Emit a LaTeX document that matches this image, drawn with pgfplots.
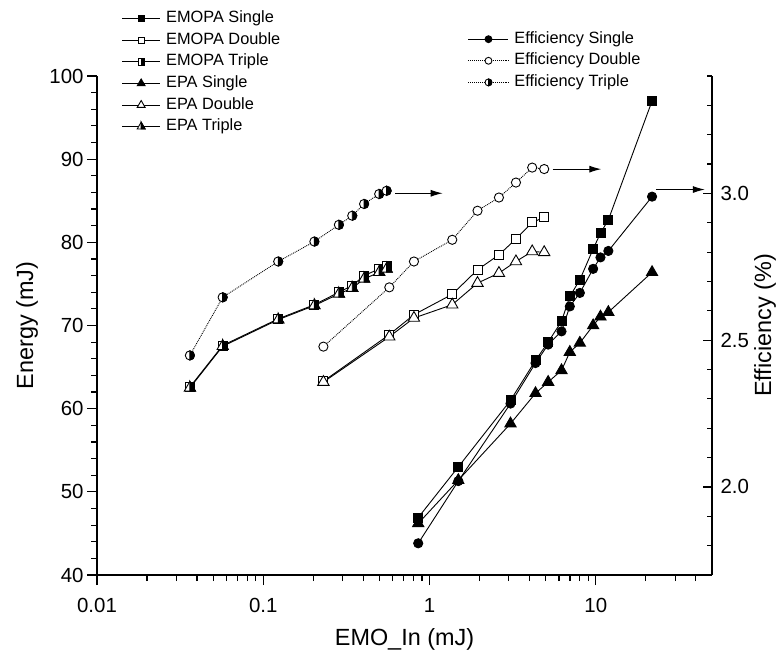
\documentclass[border=0pt]{standalone}
\usepackage{pgfplots}
\pgfplotsset{compat=1.18}
\usepackage{fontspec}
\setmainfont{Liberation Sans}
\usetikzlibrary{arrows.meta}

\pgfdeclareplotmark{hsquare}{%
 \pgfpathrectangle{\pgfqpoint{-\pgfplotmarksize}{-\pgfplotmarksize}}{\pgfqpoint{2\pgfplotmarksize}{2\pgfplotmarksize}}%
 \pgfsetfillcolor{white}\pgfusepathqfillstroke
 \pgfpathrectangle{\pgfqpoint{0pt}{-\pgfplotmarksize}}{\pgfqpoint{\pgfplotmarksize}{2\pgfplotmarksize}}%
 \pgfsetfillcolor{black}\pgfusepathqfillstroke}
\pgfdeclareplotmark{hcircle}{%
 \pgfpathcircle{\pgfpointorigin}{\pgfplotmarksize}%
 \pgfsetfillcolor{white}\pgfusepathqfillstroke
 \pgfpathmoveto{\pgfqpoint{0pt}{\pgfplotmarksize}}%
 \pgfpatharc{90}{-90}{\pgfplotmarksize}\pgfpathclose
 \pgfsetfillcolor{black}\pgfusepathqfillstroke}
\pgfdeclareplotmark{htriangle}{%
 \pgfpathmoveto{\pgfqpoint{0pt}{\pgfplotmarksize}}%
 \pgfpathlineto{\pgfqpoint{-0.866\pgfplotmarksize}{-0.5\pgfplotmarksize}}%
 \pgfpathlineto{\pgfqpoint{0.866\pgfplotmarksize}{-0.5\pgfplotmarksize}}\pgfpathclose
 \pgfsetfillcolor{white}\pgfusepathqfillstroke
 \pgfpathmoveto{\pgfqpoint{0pt}{\pgfplotmarksize}}%
 \pgfpathlineto{\pgfqpoint{0pt}{-0.5\pgfplotmarksize}}%
 \pgfpathlineto{\pgfqpoint{0.866\pgfplotmarksize}{-0.5\pgfplotmarksize}}\pgfpathclose
 \pgfsetfillcolor{black}\pgfusepathqfillstroke}

\pgfplotsset{
  mylegend/.style={
    draw=none, fill=none, inner sep=0pt, outer sep=0pt,
    font=\fontsize{16.4}{18}\selectfont,
    row sep=5.6bp, column sep=5.5bp,
    nodes={inner sep=0pt, text height=12bp, text depth=4bp},
    cells={anchor=west},
  },
  every axis plot/.append style={line width=0.9bp},
}

\begin{document}
\begin{tikzpicture}
\begin{axis}[
  scale only axis, width=615bp, height=499bp,
  xmode=log, xmin=0.01, xmax=50, ymin=40, ymax=100,
  axis x line*=bottom, axis y line*=left,
  axis line style={-, line width=1.2bp},
  xtick={0.01,0.1,1,10}, xticklabels={0.01,0.1,1,10},
  minor xtick={0.02,0.03,0.04,0.05,0.06,0.07,0.08,0.09,0.2,0.3,0.4,0.5,0.6,0.7,0.8,0.9,2,3,4,5,6,7,8,9,20,30,40},
  ytick={40,50,60,70,80,90,100},
  minor ytick={42,44,46,48,52,54,56,58,62,64,66,68,72,74,76,78,82,84,86,88,92,94,96,98},
  tick align=outside, major tick length=10bp, minor tick length=6bp,
  tick style={line width=1.2bp, black},
  /pgf/number format/assume math mode=true,
  ticklabel style={font=\fontsize{20.5}{22}\selectfont},
  xticklabel style={yshift=-10bp},
  xlabel={EMO\_In (mJ)}, ylabel={Energy (mJ)},
  label style={font=\fontsize{23.5}{26}\selectfont},
  xlabel style={at={(axis description cs:0.5,0)}, anchor=north, inner sep=0pt, yshift=-53bp},
  ylabel style={at={(axis description cs:0,0.5)}, anchor=center, inner sep=0pt, yshift=70bp},
  legend style={mylegend, at={(axis description cs:0.0402,1.1309)}, anchor=north west},
  legend image code/.code={\draw[mark repeat=2,mark phase=2, every mark/.append style={scale=0.7}] plot coordinates {(0bp,0bp) (19bp,0bp) (38bp,0bp)};},
  clip=false,
]
% EMOPA Single
\addplot[black, mark=square*, mark size=4.5bp, mark options={solid, fill=black}] coordinates {
(0.855,46.9) (1.49,53.0) (3.07,61.0) (4.34,65.8) (5.17,68.0) (6.22,70.5) (6.98,73.5) (8.02,75.5) (9.64,79.2) (10.67,81.1) (11.9,82.7) (21.8,97.0)};
\addlegendentry{EMOPA Single}
% EMOPA Double
\addplot[black, mark=square*, mark size=4.5bp, mark options={solid, fill=white}] coordinates {
(0.23,63.3) (0.573,68.9) (0.806,71.3) (1.37,73.75) (1.944,76.7) (2.615,78.5) (3.31,80.4) (4.145,82.4) (4.894,83.0)};
\addlegendentry{EMOPA Double}
% EMOPA Triple
\addplot[black, mark=hsquare, mark size=4.5bp, mark options={solid}] coordinates {
(0.0362,62.6) (0.057,67.6) (0.123,70.8) (0.203,72.5) (0.285,74.0) (0.343,74.8) (0.404,76.0) (0.498,76.8) (0.552,77.2)};
\addlegendentry{EMOPA Triple}
% EPA Single
\addplot[black, mark=triangle*, mark size=6.5bp, mark options={solid, fill=black}] coordinates {
(0.855,46.2) (1.49,51.4) (3.07,58.2) (4.34,61.85) (5.17,63.2) (6.22,64.6) (6.98,66.8) (8.02,67.9) (9.64,70.0) (10.67,71.05) (11.9,71.6) (21.8,76.4)};
\addlegendentry{EPA Single}
% EPA Double
\addplot[black, mark=triangle*, mark size=6.5bp, mark options={solid, fill=white}] coordinates {
(0.23,63.2) (0.573,68.65) (0.806,70.9) (1.37,72.5) (1.944,75.1) (2.615,76.3) (3.31,77.7) (4.145,78.9) (4.894,78.8)};
\addlegendentry{EPA Double}
% EPA Triple
\addplot[black, mark=htriangle, mark size=6.5bp, mark options={solid}] coordinates {
(0.0362,62.5) (0.057,67.5) (0.123,70.7) (0.203,72.4) (0.285,73.8) (0.343,74.5) (0.404,75.6) (0.498,76.4) (0.552,76.8)};
\addlegendentry{EPA Triple}
% arrows
\draw[line width=1bp, -{Latex[length=12bp,width=7bp]}] (axis cs:0.62,85.9) -- (axis cs:1.2,85.9);
\draw[line width=1bp, -{Latex[length=12bp,width=7bp]}] (axis cs:5.5,88.8) -- (axis cs:10.8,88.8);
\draw[line width=1bp, -{Latex[length=12bp,width=7bp]}] (axis cs:23,86.35) -- (axis cs:45.3,86.35);
\end{axis}
\begin{axis}[
  scale only axis, width=615bp, height=499bp,
  xmode=log, xmin=0.01, xmax=50, ymin=1.7, ymax=3.4,
  hide x axis, axis y line*=right,
  axis line style={-, line width=1.2bp},
  ytick={2,2.5,3},
  minor ytick={1.7,1.8,1.9,2.1,2.2,2.3,2.4,2.6,2.7,2.8,2.9,3.1,3.2,3.3,3.4},
  tick align=inside, major tick length=9bp, minor tick length=5.5bp,
  tick style={line width=1.2bp, black},
  yticklabel style={/pgf/number format/.cd, fixed, fixed zerofill, precision=1, assume math mode=true},
  ticklabel style={font=\fontsize{20.5}{22}\selectfont, xshift=5bp},
  ylabel={Efficiency (\%)},
  ylabel style={font=\fontsize{23.5}{26}\selectfont, at={(axis description cs:1,0.5)}, anchor=center, inner sep=0pt, yshift=-53bp},
  legend style={mylegend, at={(axis description cs:0.6033,1.0898)}, anchor=north west},
  legend image code/.code={\draw[mark repeat=2,mark phase=2, every mark/.append style={scale=0.75}] plot coordinates {(0bp,0bp) (20bp,0bp) (40bp,0bp)};},
  clip=false,
]
% Efficiency Single
\addplot[black, mark=*, mark size=4.6bp, mark options={solid, fill=black}] coordinates {
(0.855,1.808) (1.49,2.020) (3.07,2.284) (4.34,2.422) (5.17,2.485) (6.22,2.530) (6.98,2.615) (8.02,2.661) (9.64,2.743) (10.67,2.782) (11.9,2.804) (21.8,2.989)};
\addlegendentry{Efficiency Single}
% Efficiency Double
\addplot[black, densely dotted, mark=*, mark size=4.6bp, mark options={solid, fill=white}] coordinates {
(0.23,2.478) (0.573,2.680) (0.806,2.768) (1.37,2.842) (1.944,2.941) (2.615,2.986) (3.31,3.037) (4.145,3.088) (4.894,3.083)};
\addlegendentry{Efficiency Double}
% Efficiency Triple
\addplot[black, densely dotted, mark=hcircle, mark size=4.6bp, mark options={solid}] coordinates {
(0.0362,2.448) (0.057,2.646) (0.123,2.768) (0.203,2.836) (0.285,2.893) (0.343,2.924) (0.404,2.964) (0.498,2.998) (0.552,3.009)};
\addlegendentry{Efficiency Triple}
\end{axis}
\pgfresetboundingbox
\path (-97bp,-77bp) rectangle (686bp,575bp);
\end{tikzpicture}
\end{document}
